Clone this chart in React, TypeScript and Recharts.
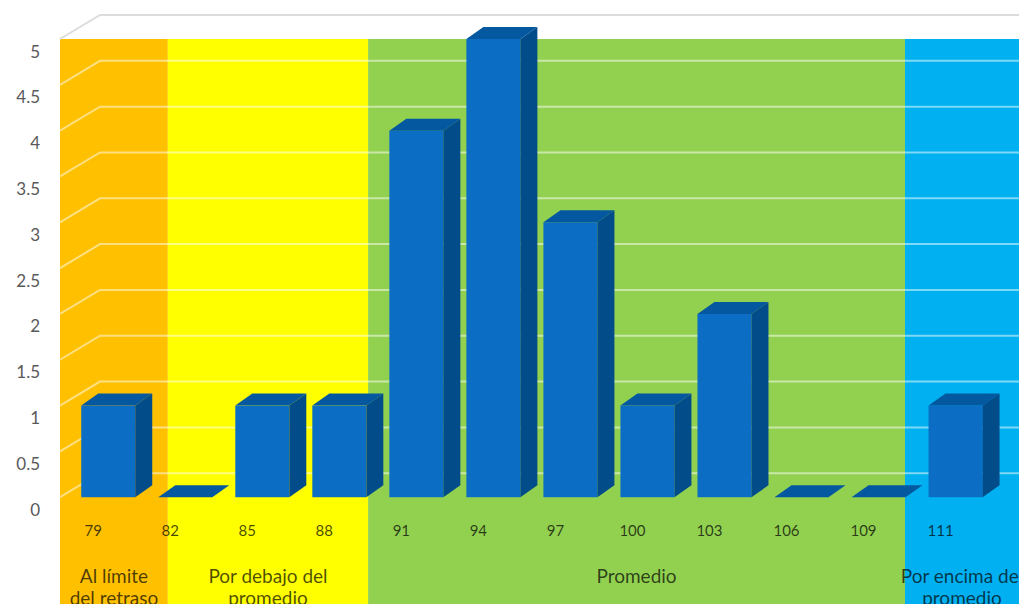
import React from 'react';
import { BarChart, Bar, XAxis, YAxis, CartesianGrid, ReferenceArea, LabelList } from 'recharts';

// ---- data ----
const categories = ['79', '82', '85', '88', '91', '94', '97', '100', '103', '106', '109', '111'];
const frequency = [1, 0, 1, 1, 4, 5, 3, 1, 2, 0, 0, 1];
const yTicks = [0, 0.5, 1, 1.5, 2, 2.5, 3, 3.5, 4, 4.5, 5];

const bandLabels = [
  ['Al límite', 'del retraso'],
  ['Por debajo del', 'promedio'],
  ['Promedio'],
  ['Por encima del', 'promedio'],
];
const bandFrom = [-0.62, 0.78, 3.38, 10.35];
const bandTo = [0.78, 3.38, 10.35, 11.83];
const bandColors = ['#FFC000', '#FFFF00', '#92D050', '#00B0F0'];

const data = categories.map((c, i) => ({ idx: i, label: c, value: frequency[i] }));

// ---- styles ----
const FONT = 'Lato, "Open Sans", sans-serif';
const FRONT = '#0B6DC3';
const SIDE = '#034C8A';
const TOP = '#0458A0';
const DX = 17;
const DY = 12;

function Bar3D(props: any) {
  const { x, y, width, height } = props;
  if (x == null || y == null || isNaN(x) || isNaN(y)) return null;
  const h = Math.max(0, height || 0);
  const w = width;
  return (
    <g>
      {h > 0 && <rect x={x} y={y} width={w} height={h} fill={FRONT} />}
      {h > 0 && (
        <polygon
          points={`${x + w},${y} ${x + w + DX},${y - DY} ${x + w + DX},${y + h - DY} ${x + w},${y + h}`}
          fill={SIDE}
        />
      )}
      <polygon points={`${x},${y} ${x + DX},${y - DY} ${x + w + DX},${y - DY} ${x + w},${y}`} fill={TOP} />
    </g>
  );
}

function XLabel(props: any) {
  const { x, y, width, height, value } = props;
  return (
    <text
      x={x + width / 2 - 15}
      y={y + height + 39}
      textAnchor="middle"
      fontFamily={FONT}
      fontSize={15}
      fill="#000"
      fillOpacity={0.72}
    >
      {value}
    </text>
  );
}

function YTick(props: any) {
  const { x, y, payload } = props;
  return (
    <text x={x} y={y + 12} textAnchor="end" dominantBaseline="central" fontFamily={FONT} fontSize={17} fill="#595959">
      {String(payload.value)}
    </text>
  );
}

function gridLine(props: any) {
  const { x1, x2, y1 } = props;
  const bottom = typeof props.y === 'number' && typeof props.height === 'number' ? props.y + props.height : 604;
  if (y1 >= bottom - 1) return <g key={`g-${y1}`} />;
  const by = y1 - 24;
  const overWhite = by < 30;
  return (
    <path
      key={`g-${y1}`}
      d={`M${x1},${y1} L${x1 + 40},${by} L${x2},${by}`}
      fill="none"
      stroke={overWhite ? '#dcdcdc' : '#ffffff'}
      strokeOpacity={overWhite ? 1 : 0.5}
      strokeWidth={2}
    />
  );
}

function bandLabel(lines: string[]) {
  return (p: any) => {
    const vb = p.viewBox || {};
    const cx = vb.x + vb.width / 2;
    const bottom = vb.y + vb.height;
    return (
      <g>
        {lines.map((t, i) => (
          <text
            key={i}
            x={cx}
            y={bottom - 21 + 22 * i}
            textAnchor="middle"
            fontFamily={FONT}
            fontSize={19}
            fill="#000"
            fillOpacity={0.7}
          >
            {t}
          </text>
        ))}
      </g>
    );
  };
}

export default function App() {
  return (
    <div style={{ position: 'absolute', left: 0, top: 0, width: 1019, height: 604, background: '#fff' }}>
      <BarChart width={1019} height={604} data={data} margin={{ top: 39, right: 0, bottom: 0, left: 0 }}>
        {bandLabels.map((lines, i) => (
          <ReferenceArea
            key={i}
            x1={bandFrom[i]}
            x2={bandTo[i]}
            fill={bandColors[i]}
            fillOpacity={1}
            stroke="none"
            ifOverflow="visible"
            zIndex={-200}
            label={{ content: bandLabel(lines) }}
          />
        ))}
        <CartesianGrid vertical={false} horizontal={gridLine} zIndex={-50} />
        <XAxis type="number" dataKey="idx" domain={[-0.62, 11.83]} hide />
        <YAxis
          type="number"
          domain={[-1.165, 5]}
          ticks={yTicks}
          interval={0}
          width={60}
          axisLine={false}
          tickLine={false}
          tickSize={0}
          tickMargin={20}
          tick={<YTick />}
        />
        <Bar dataKey="value" barSize={54} shape={<Bar3D />} isAnimationActive={false}>
          <LabelList dataKey="label" content={<XLabel />} />
        </Bar>
      </BarChart>
    </div>
  );
}
